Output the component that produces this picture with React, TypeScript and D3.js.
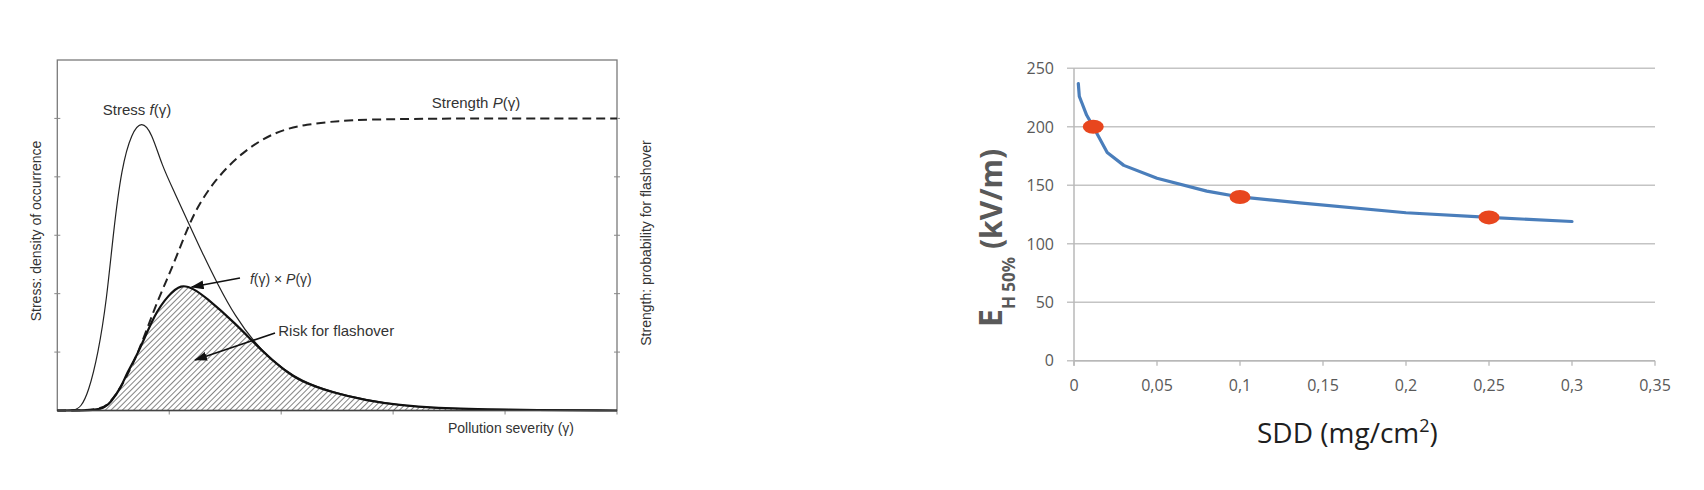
import React from 'react';
import * as d3 from 'd3';

// ---------- Left chart (stress / strength concept, unitless axes) ----------
const stressX = [0, 0.158, 0.21, 0.277, 0.366, 0.441, 0.5, 0.575, 0.665, 0.754, 0.843, 0.933, 1.051, 1.17, 1.29, 1.438, 1.587, 1.766, 1.915, 2.019, 2.168, 2.463, 2.764, 3.061, 3.356, 3.955, 5];
const stressY = [0, 0, 0.06, 0.3, 0.98, 1.89, 3.04, 4.17, 4.76, 4.96, 4.76, 4.2, 3.72, 3.22, 2.72, 2.14, 1.62, 1.15, 0.87, 0.72, 0.52, 0.31, 0.18, 0.09, 0.04, 0.01, 0];

const riskX = [0, 0.366, 0.426, 0.471, 0.575, 0.62, 0.724, 0.873, 0.992, 1.105, 1.22, 1.319, 1.587, 1.826, 2.019, 2.168, 2.463, 2.764, 3.061, 3.356, 3.955, 5];
const riskY = [0, 0, 0.065, 0.12, 0.41, 0.64, 0.98, 1.67, 1.97, 2.17, 2.08, 1.95, 1.5, 1.02, 0.7, 0.5, 0.3, 0.17, 0.09, 0.04, 0.01, 0];

const strengthX = [0, 0.381, 0.471, 0.575, 0.724, 0.873, 0.992, 1.111, 1.23, 1.409, 1.647, 1.945, 2.228, 2.525, 2.764, 3.356, 5];
const strengthY = [0, 0, 0.13, 0.41, 0.98, 1.78, 2.29, 2.86, 3.43, 3.95, 4.42, 4.78, 4.9, 4.96, 4.98, 5, 5];

const leftXTicks = [0, 1, 2, 3, 4, 5];
const leftYTicks = [0, 1, 2, 3, 4, 5, 6];

// ---------- Right chart (E_H50% vs SDD) ----------
const sddValues = [0.0026, 0.0032, 0.0046, 0.0076, 0.0116, 0.02, 0.03, 0.05, 0.08, 0.1, 0.136, 0.2, 0.25, 0.3];
const eh50Values = [237, 226, 221, 210, 200, 178, 167, 156, 145, 140, 135, 126.5, 122.5, 119];
const markerSdd = [0.0116, 0.1, 0.25];
const markerEh = [200, 140, 122.5];

const rightXTicks = [0, 0.05, 0.1, 0.15, 0.2, 0.25, 0.3, 0.35];
const rightXLabels = ['0', '0,05', '0,1', '0,15', '0,2', '0,25', '0,3', '0,35'];
const rightYTicks = [0, 50, 100, 150, 200, 250];
const rightYLabels = ['0', '50', '100', '150', '200', '250'];

type P = [number, number];
const zip = (xs: number[], ys: number[]): P[] => xs.map((x, i) => [x, ys[i]]);

export default function App() {
  const W = 1704, H = 490;

  // left scales
  const lx = d3.scaleLinear().domain([0, 5]).range([57.3, 617]);
  const ly = d3.scaleLinear().domain([0, 6]).range([410.5, 60]);
  const lLine = d3.line<P>().x(d => lx(d[0])).y(d => ly(d[1])).curve(d3.curveBasis);
  const lArea = d3.area<P>().x(d => lx(d[0])).y0(ly(0)).y1(d => ly(d[1])).curve(d3.curveBasis);

  const stress = zip(stressX, stressY);
  const risk = zip(riskX, riskY);
  const strength = zip(strengthX, strengthY);

  // right scales
  const rx = d3.scaleLinear().domain([0, 0.35]).range([1074, 1655]);
  const ry = d3.scaleLinear().domain([0, 250]).range([360.7, 68.3]);
  const rLine = d3.line<P>().x(d => rx(d[0])).y(d => ry(d[1]));
  const curve = zip(sddValues, eh50Values);

  const lfont = "'Liberation Sans', Arial, sans-serif";
  const rfont = "'Open Sans', 'DejaVu Sans', sans-serif";
  const ltext = '#333';

  return (
    <svg width={W} height={H} style={{ position: 'absolute', left: 0, top: 0, background: '#fff' }}>
      <defs>
        <pattern id="hatch" patternUnits="userSpaceOnUse" width={4} height={4} patternTransform="rotate(45)">
          <line x1={0} y1={0} x2={0} y2={4} stroke="#303030" strokeWidth={1.2} />
        </pattern>
        <marker id="arrowHead" markerUnits="userSpaceOnUse" markerWidth={13} markerHeight={9} refX={12} refY={4.5} orient="auto">
          <path d="M0,0 L13,4.5 L0,9 z" fill="#111" />
        </marker>
      </defs>

      {/* ===== Left chart ===== */}
      <rect x={lx(0)} y={ly(6)} width={lx(5) - lx(0)} height={ly(0) - ly(6)} fill="none" stroke="#7a7a7a" strokeWidth={1.3} />
      {leftYTicks.slice(1, -1).map(t => (
        <g key={'ly' + t}>
          <line x1={lx(0) - 3} x2={lx(0) + 3} y1={ly(t)} y2={ly(t)} stroke="#888" strokeWidth={1} />
          <line x1={lx(5) - 3} x2={lx(5) + 3} y1={ly(t)} y2={ly(t)} stroke="#888" strokeWidth={1} />
        </g>
      ))}
      {leftXTicks.slice(1).map(t => (
        <line key={'lx' + t} x1={lx(t)} x2={lx(t)} y1={ly(0)} y2={ly(0) + 4} stroke="#888" strokeWidth={1} />
      ))}

      <path d={lArea(risk) || ''} fill="url(#hatch)" />
      <path d={lLine(stress) || ''} fill="none" stroke="#222" strokeWidth={1.2} />
      <path d={lLine(strength) || ''} fill="none" stroke="#222" strokeWidth={2} strokeDasharray="9,5" />
      <path d={lLine(risk) || ''} fill="none" stroke="#111" strokeWidth={2.2} />
      <line x1={lx(0)} x2={lx(5)} y1={ly(0)} y2={ly(0)} stroke="#444" strokeWidth={1.4} />

      {/* arrows */}
      <line x1={lx(1.632)} y1={ly(2.268)} x2={lx(1.2)} y2={ly(2.114)} stroke="#111" strokeWidth={1.6} markerEnd="url(#arrowHead)" />
      <line x1={lx(1.945)} y1={ly(1.327)} x2={lx(1.23)} y2={ly(0.864)} stroke="#111" strokeWidth={1.6} markerEnd="url(#arrowHead)" />

      <text x={lx(0.712)} y={ly(5.058)} textAnchor="middle" fontFamily={lfont} fontSize={15} fill={ltext}>
        Stress <tspan fontStyle="italic">f</tspan>(γ)
      </text>
      <text x={lx(3.74)} y={ly(5.178)} textAnchor="middle" fontFamily={lfont} fontSize={15} fill={ltext}>
        Strength <tspan fontStyle="italic">P</tspan>(γ)
      </text>
      <text x={lx(1.721)} y={ly(2.165)} fontFamily={lfont} fontSize={14} fill={ltext}>
        <tspan fontStyle="italic">f</tspan>(γ) × <tspan fontStyle="italic">P</tspan>(γ)
      </text>
      <text x={lx(1.974)} y={ly(1.275)} fontFamily={lfont} fontSize={15} fill={ltext}>Risk for flashover</text>
      <text x={511} y={433} textAnchor="middle" fontFamily={lfont} fontSize={14} fill={ltext}>Pollution severity (γ)</text>
      <text transform={`translate(41,231) rotate(-90)`} textAnchor="middle" fontFamily={lfont} fontSize={14} fill={ltext}>
        Stress: density of occurrence
      </text>
      <text transform={`translate(651,243) rotate(-90)`} textAnchor="middle" fontFamily={lfont} fontSize={14} fill={ltext}>
        Strength: probability for flashover
      </text>

      {/* ===== Right chart ===== */}
      {rightYTicks.map((t, i) => (
        <g key={'ry' + t}>
          <line x1={rx(0) - 7} x2={rx(0.35)} y1={ry(t)} y2={ry(t)} stroke="#c4c4c4" strokeWidth={1.4} />
          <text x={1054} y={ry(t)} dy="0.36em" textAnchor="end" fontFamily={rfont} fontSize={16} fill="#595959">
            {rightYLabels[i]}
          </text>
        </g>
      ))}
      <line x1={rx(0)} x2={rx(0)} y1={ry(250)} y2={ry(0) + 5} stroke="#b8b8b8" strokeWidth={1.5} />
      <line x1={rx(0)} x2={rx(0.35)} y1={ry(0)} y2={ry(0)} stroke="#b8b8b8" strokeWidth={1.5} />
      {rightXTicks.map((t, i) => (
        <g key={'rx' + t}>
          <line x1={rx(t)} x2={rx(t)} y1={ry(0)} y2={ry(0) + 5} stroke="#b8b8b8" strokeWidth={1.3} />
          <text x={rx(t)} y={391} textAnchor="middle" fontFamily={rfont} fontSize={16} fill="#595959">
            {rightXLabels[i]}
          </text>
        </g>
      ))}

      <path d={rLine(curve) || ''} fill="none" stroke="#4a7ebb" strokeWidth={3.2} strokeLinejoin="round" strokeLinecap="round" />
      {markerSdd.map((s, i) => (
        <ellipse key={'m' + i} cx={rx(s)} cy={ry(markerEh[i])} rx={10.5} ry={7} fill="#e8461e" />
      ))}

      <text x={1257} y={443} fontFamily={rfont} fontSize={28} fill="#1e1e1e">
        SDD (mg/cm<tspan fontSize={18} dy={-11}>2</tspan><tspan dy={11}>)</tspan>
      </text>
      <text transform={`translate(1002,327) rotate(-90)`} fontFamily={rfont} fontWeight="bold" fill="#595959">
        <tspan fontSize={32}>E</tspan>
        <tspan fontSize={17} dy={13}>H 50%</tspan>
        <tspan fontSize={30} dy={-13}> (kV/m)</tspan>
      </text>
    </svg>
  );
}
